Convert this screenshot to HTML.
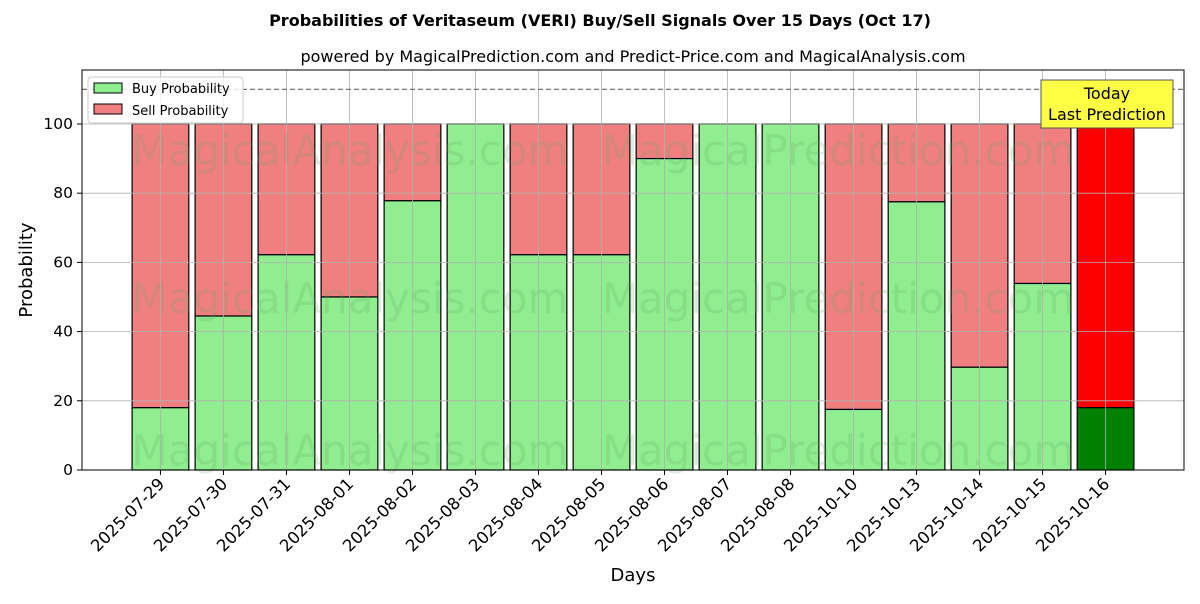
<!DOCTYPE html>
<html><head><meta charset="utf-8"><style>
body{margin:0;background:#fff;font-family:"DejaVu Sans","Liberation Sans",sans-serif;}
</style></head><body>
<svg id="chart" width="1200" height="600" xmlns="http://www.w3.org/2000/svg" font-family="DejaVu Sans, Liberation Sans, sans-serif">
<text x="600" y="26" text-anchor="middle" font-size="16" font-weight="bold">Probabilities of Veritaseum (VERI) Buy/Sell Signals Over 15 Days (Oct 17)</text>
<text x="633" y="62" text-anchor="middle" font-size="16">powered by MagicalPrediction.com and Predict-Price.com and MagicalAnalysis.com</text>
<g id="plot"></g>
<text x="633" y="581" text-anchor="middle" font-size="18">Days</text>
<text transform="translate(32,270) rotate(-90)" text-anchor="middle" font-size="18">Probability</text>
</svg>
<script>
const categories=["2025-07-29","2025-07-30","2025-07-31","2025-08-01","2025-08-02","2025-08-03","2025-08-04","2025-08-05","2025-08-06","2025-08-07","2025-08-08","2025-10-10","2025-10-13","2025-10-14","2025-10-15","2025-10-16"];
const buyValues=[18,44.5,62.2,50,77.8,100,62.2,62.2,90,100,100,17.5,77.5,29.7,53.9,18];
const yTicks=[0,20,40,60,80,100];
const L=82,R=1184,T=70,B=470;
const xMin=-1.245,xMax=16.245,yMin=0,yMax=115.6;
const xs=i=>L+(i-xMin)/(xMax-xMin)*(R-L);
const ys=v=>B-(v-yMin)/(yMax-yMin)*(B-T);
const bw=0.9*(R-L)/(xMax-xMin);
const g=document.getElementById('plot');
const NS="http://www.w3.org/2000/svg";
function mk(t,a,p){const e=document.createElementNS(NS,t);for(const k in a)e.setAttribute(k,a[k]);(p||g).appendChild(e);return e;}
const last=categories.length-1;
categories.forEach((c,i)=>{
 const b=buyValues[i],x=xs(i)-bw/2;
 const s=mk('rect',{x:x,y:ys(100),width:bw,height:ys(b)-ys(100),fill:i==last?'#ff0000':'#f08080',stroke:'#000','stroke-width':1.2});
 
 
 const r=mk('rect',{x:x,y:ys(b),width:bw,height:ys(0)-ys(b),fill:i==last?'#008000':'#90ee90',stroke:'#000','stroke-width':1.2});
 
 
});
// watermarks
[[350,150],[838,150],[350,298],[838,298],[350,450],[838,450]].forEach(([x,y])=>{const t=mk('text',{x:x,y:y+15,'text-anchor':'middle','font-size':42,fill:'rgba(100,160,100,0.2)'});t.textContent=x<600?'MagicalAnalysis.com':'MagicalPrediction.com';

});
// grid
categories.forEach((c,i)=>{
 const l=mk('line',{x1:xs(i),x2:xs(i),y1:T,y2:B,stroke:'#b0b0b0','stroke-width':0.8});
 
 
 mk('line',{x1:xs(i),x2:xs(i),y1:B,y2:B+5,stroke:'#000'});
 const t=mk('text',{'font-size':16.5,'text-anchor':'end',transform:`translate(${xs(i)+5},${B+15}) rotate(-45)`});
 t.textContent=c;
 
 
});
yTicks.forEach(v=>{
 const l=mk('line',{x1:L,x2:R,y1:ys(v),y2:ys(v),stroke:'#b0b0b0','stroke-width':0.8});
 
 
 mk('line',{x1:L-5,x2:L,y1:ys(v),y2:ys(v),stroke:'#000'});
 const t=mk('text',{x:L-9,y:ys(v)+5,'font-size':15.5,'text-anchor':'end'});
 t.textContent=v;
 
 
});
const d=mk('line',{x1:L,x2:R,y1:ys(110),y2:ys(110),stroke:'#777','stroke-width':1.2,'stroke-dasharray':'5,3'});


const fr=mk('rect',{x:L,y:T,width:R-L,height:B-T,fill:'none',stroke:'#000','stroke-width':1});


// legend
const lg=mk('g',{});


mk('rect',{x:88,y:77,width:155,height:46,rx:3,fill:'rgba(255,255,255,0.8)',stroke:'#ccc'},lg);
mk('rect',{x:94,y:83,width:28,height:10,fill:'#90ee90',stroke:'#000'},lg);
mk('rect',{x:94,y:104,width:28,height:10,fill:'#f08080',stroke:'#000'},lg);
const t1=mk('text',{x:132,y:93,'font-size':13},lg);t1.textContent='Buy Probability';
const t2=mk('text',{x:132,y:115,'font-size':13},lg);t2.textContent='Sell Probability';
// today box
const tb=mk('g',{});


mk('rect',{x:1041,y:80,width:132,height:48,fill:'#ffff44',stroke:'#555'},tb);
const a=mk('text',{x:1107,y:99,'font-size':16,'text-anchor':'middle'},tb);a.textContent='Today';
const b2=mk('text',{x:1107,y:120,'font-size':16,'text-anchor':'middle'},tb);b2.textContent='Last Prediction';
</script>
</body></html>
